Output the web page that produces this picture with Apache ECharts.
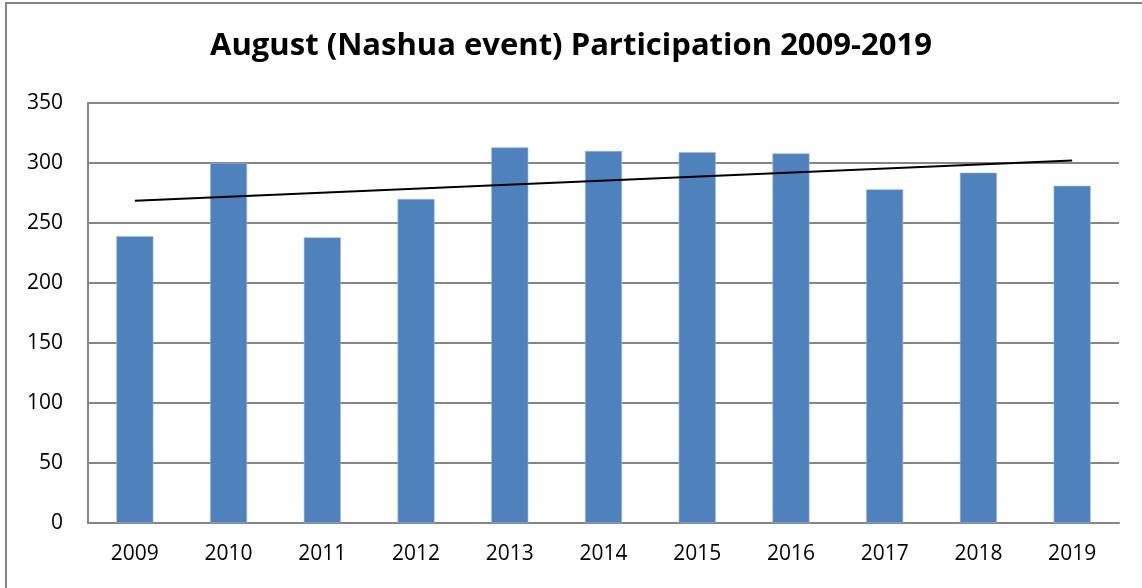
<!DOCTYPE html>
<html>
<head>
<meta charset="utf-8">
<script src="https://cdn.jsdelivr.net/npm/echarts@6/dist/echarts.min.js"></script>
<style>
html,body{margin:0;padding:0;background:#fff;}
#chart{width:1142px;height:588px;}
</style>
</head>
<body>
<div id="chart"></div>
<script>
const categories = ['2009','2010','2011','2012','2013','2014','2015','2016','2017','2018','2019'];
const participants = [239, 300, 238, 270, 313, 310, 309, 308, 278, 292, 281];
const trendCategories = ['2009', '2019'];
const trendValues = [268.5, 302.1];
const yTicks = [0, 50, 100, 150, 200, 250, 300, 350];

const chart = echarts.init(document.getElementById('chart'));
const fontFam = 'Open Sans, Noto Sans, sans-serif';
chart.setOption({
  animation: false,
  backgroundColor: '#ffffff',
  title: {
    text: 'August (Nashua event) Participation 2009-2019',
    left: 'center',
    top: 26,
    textStyle: { fontFamily: fontFam, fontWeight: 'bold', fontSize: 31, color: '#000' }
  },
  graphic: [{
    type: 'rect',
    shape: { x: 6, y: 3, width: 1160, height: 620 },
    style: { fill: 'none', stroke: '#868686', lineWidth: 2 },
    silent: true
  }],
  grid: { left: 88, right: 23, top: 103, bottom: 65 },
  xAxis: {
    type: 'category',
    data: categories,
    axisLine: { lineStyle: { color: '#868686', width: 2 } },
    axisTick: { show: false },
    axisLabel: { color: '#000', fontFamily: fontFam, fontSize: 21, margin: 21 }
  },
  yAxis: {
    type: 'value',
    min: yTicks[0],
    max: yTicks[yTicks.length - 1],
    interval: 50,
    axisLine: { show: true, lineStyle: { color: '#868686', width: 2 } },
    axisTick: { show: false },
    splitLine: { lineStyle: { color: '#868686', width: 2 } },
    axisLabel: { color: '#000', fontFamily: fontFam, fontSize: 21, margin: 25 }
  },
  series: [
    {
      type: 'bar',
      data: participants,
      barWidth: 37,
      itemStyle: { color: '#4F81BD', borderColor: '#9DB9DC', borderWidth: 0.6 }
    },
    {
      type: 'line',
      data: trendCategories.map((c, i) => [c, trendValues[i]]),
      symbol: 'none',
      lineStyle: { color: '#000', width: 2 },
      z: 5
    }
  ]
});
</script>
</body>
</html>
